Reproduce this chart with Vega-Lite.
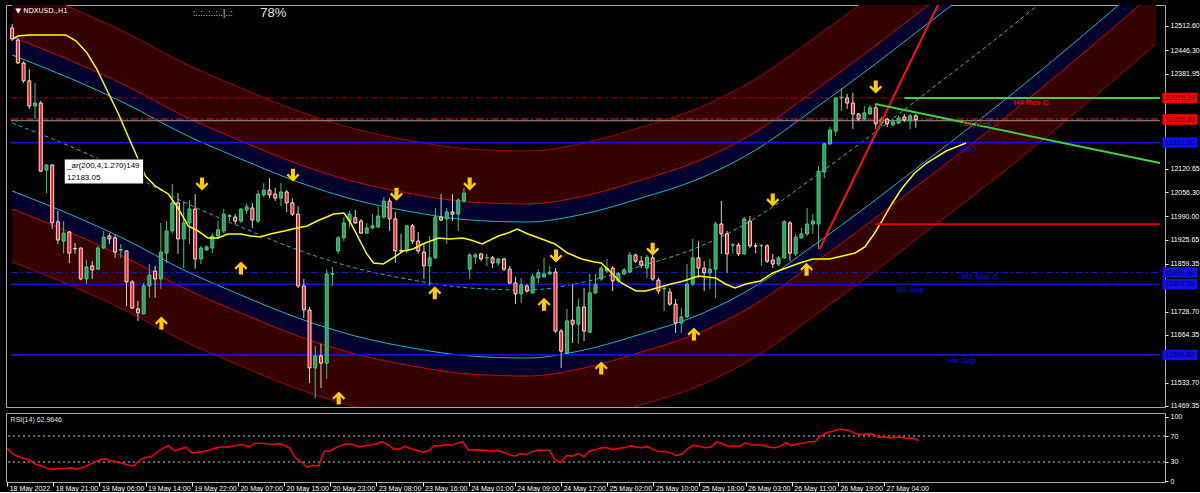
{
"$schema":"https://vega.github.io/schema/vega-lite/v6.json",
"background":"#000000",
"padding":{"left":3,"top":4,"right":0,"bottom":0},
"spacing":2,
"config":{"view":{"stroke":"#A8A8A8","strokeWidth":1},"axis":{"labelColor":"#FFFFFF","labelFont":"Liberation Sans","labelFontSize":7,"tickColor":"#FFFFFF","domain":false,"grid":false,"title":null,"labelOverlap":false}},
"datasets":{
"candles":[
{"i":0,"o":12507,"h":12518,"l":12471,"c":12477},{"i":1,"o":12474,"h":12480,"l":12408,"c":12411},{"i":2,"o":12411,"h":12416,"l":12356,"c":12362},{"i":3,"o":12362,"h":12394,"l":12285,"c":12293},{"i":4,"o":12293,"h":12356,"l":12257,"c":12301},{"i":5,"o":12301,"h":12307,"l":12112,"c":12114},{"i":6,"o":12117,"h":12134,"l":12054,"c":12131},{"i":7,"o":12131,"h":12133,"l":11955,"c":11972},{"i":8,"o":11975,"h":12005,"l":11914,"c":11925},{"i":9,"o":11922,"h":11977,"l":11889,"c":11944},
{"i":10,"o":11947,"h":11950,"l":11862,"c":11889},{"i":11,"o":11902,"h":11917,"l":11887,"c":11901},{"i":12,"o":11903,"h":11904,"l":11815,"c":11818},{"i":13,"o":11818,"h":11870,"l":11804,"c":11851},{"i":14,"o":11854,"h":11867,"l":11818,"c":11843},{"i":15,"o":11845,"h":11909,"l":11843,"c":11903},{"i":16,"o":11903,"h":11950,"l":11900,"c":11933},{"i":17,"o":11936,"h":11944,"l":11914,"c":11928},{"i":18,"o":11931,"h":11939,"l":11876,"c":11892},{"i":19,"o":11897,"h":11914,"l":11876,"c":11899},
{"i":20,"o":11895,"h":11896,"l":11744,"c":11810},{"i":21,"o":11810,"h":11815,"l":11736,"c":11738},{"i":22,"o":11736,"h":11758,"l":11703,"c":11725},{"i":23,"o":11722,"h":11807,"l":11722,"c":11799},{"i":24,"o":11799,"h":11859,"l":11766,"c":11829},{"i":25,"o":11840,"h":11854,"l":11766,"c":11818},{"i":26,"o":11818,"h":11972,"l":11791,"c":11892},{"i":27,"o":11889,"h":11977,"l":11862,"c":11950},{"i":28,"o":11950,"h":12079,"l":11942,"c":12027},{"i":29,"o":12027,"h":12054,"l":11887,"c":11928},
{"i":30,"o":11928,"h":12032,"l":11848,"c":11972},{"i":31,"o":11972,"h":12035,"l":11914,"c":12010},{"i":32,"o":12010,"h":12051,"l":11846,"c":11873},{"i":33,"o":11873,"h":11909,"l":11859,"c":11903},{"i":34,"o":11898,"h":11911,"l":11895,"c":11906},{"i":35,"o":11903,"h":11944,"l":11889,"c":11936},{"i":36,"o":11936,"h":11977,"l":11928,"c":11953},{"i":37,"o":11950,"h":12010,"l":11944,"c":11996},{"i":38,"o":11990,"h":11996,"l":11977,"c":11992},{"i":39,"o":11988,"h":11996,"l":11969,"c":11977},
{"i":40,"o":11977,"h":12013,"l":11972,"c":12010},{"i":41,"o":12007,"h":12024,"l":11996,"c":12016},{"i":42,"o":12013,"h":12027,"l":11958,"c":11980},{"i":43,"o":11977,"h":12062,"l":11972,"c":12051},{"i":44,"o":12049,"h":12081,"l":12043,"c":12062},{"i":45,"o":12062,"h":12095,"l":12040,"c":12049},{"i":46,"o":12051,"h":12068,"l":12032,"c":12040},{"i":47,"o":12040,"h":12081,"l":12018,"c":12057},{"i":48,"o":12057,"h":12062,"l":12002,"c":12027},{"i":49,"o":12027,"h":12040,"l":11991,"c":11996},
{"i":50,"o":11996,"h":12018,"l":11793,"c":11799},{"i":51,"o":11799,"h":11818,"l":11711,"c":11733},{"i":52,"o":11733,"h":11741,"l":11532,"c":11574},{"i":53,"o":11574,"h":11634,"l":11491,"c":11607},{"i":54,"o":11607,"h":11640,"l":11519,"c":11587},{"i":55,"o":11587,"h":11845,"l":11544,"c":11832},{"i":56,"o":11831,"h":11851,"l":11799,"c":11833},{"i":57,"o":11895,"h":11936,"l":11887,"c":11931},{"i":58,"o":11931,"h":11988,"l":11922,"c":11972},{"i":59,"o":11977,"h":12005,"l":11958,"c":11996},
{"i":60,"o":11986,"h":12007,"l":11969,"c":11972},{"i":61,"o":11977,"h":11983,"l":11942,"c":11944},{"i":62,"o":11944,"h":11972,"l":11942,"c":11958},{"i":63,"o":11958,"h":11996,"l":11955,"c":11964},{"i":64,"o":11961,"h":12016,"l":11958,"c":11991},{"i":65,"o":11988,"h":12043,"l":11983,"c":12032},{"i":66,"o":12032,"h":12040,"l":11950,"c":11983},{"i":67,"o":11983,"h":12002,"l":11862,"c":11895},{"i":68,"o":11896,"h":11942,"l":11889,"c":11895},{"i":69,"o":11895,"h":11966,"l":11889,"c":11964},
{"i":70,"o":11964,"h":11969,"l":11914,"c":11922},{"i":71,"o":11922,"h":11947,"l":11887,"c":11895},{"i":72,"o":11892,"h":11914,"l":11818,"c":11854},{"i":73,"o":11854,"h":11936,"l":11799,"c":11876},{"i":74,"o":11876,"h":12013,"l":11873,"c":11988},{"i":75,"o":11988,"h":12051,"l":11977,"c":11980},{"i":76,"o":11983,"h":12013,"l":11914,"c":12002},{"i":77,"o":12002,"h":12051,"l":11977,"c":11996},{"i":78,"o":11996,"h":12040,"l":11950,"c":12035},{"i":79,"o":12032,"h":12068,"l":12027,"c":12054},
{"i":80,"o":11845,"h":11889,"l":11818,"c":11884},{"i":81,"o":11878,"h":11889,"l":11859,"c":11884},{"i":82,"o":11887,"h":11889,"l":11867,"c":11873},{"i":83,"o":11876,"h":11887,"l":11854,"c":11877},{"i":84,"o":11876,"h":11881,"l":11848,"c":11862},{"i":85,"o":11862,"h":11876,"l":11854,"c":11873},{"i":86,"o":11873,"h":11876,"l":11840,"c":11845},{"i":87,"o":11845,"h":11854,"l":11804,"c":11807},{"i":88,"o":11807,"h":11824,"l":11749,"c":11777},{"i":89,"o":11777,"h":11821,"l":11752,"c":11802},
{"i":90,"o":11799,"h":11804,"l":11780,"c":11785},{"i":91,"o":11780,"h":11832,"l":11777,"c":11824},{"i":92,"o":11821,"h":11845,"l":11807,"c":11835},{"i":93,"o":11824,"h":11876,"l":11821,"c":11832},{"i":94,"o":11832,"h":11854,"l":11829,"c":11837},{"i":95,"o":11837,"h":11848,"l":11670,"c":11675},{"i":96,"o":11675,"h":11681,"l":11574,"c":11620},{"i":97,"o":11615,"h":11736,"l":11612,"c":11703},{"i":98,"o":11705,"h":11804,"l":11642,"c":11694},{"i":99,"o":11694,"h":11765,"l":11640,"c":11741},
{"i":100,"o":11741,"h":11793,"l":11648,"c":11675},{"i":101,"o":11672,"h":11832,"l":11670,"c":11780},{"i":102,"o":11780,"h":11832,"l":11777,"c":11802},{"i":103,"o":11818,"h":11854,"l":11813,"c":11848},{"i":104,"o":11840,"h":11873,"l":11835,"c":11848},{"i":105,"o":11848,"h":11854,"l":11785,"c":11813},{"i":106,"o":11813,"h":11837,"l":11807,"c":11832},{"i":107,"o":11832,"h":11848,"l":11829,"c":11843},{"i":108,"o":11837,"h":11892,"l":11835,"c":11884},{"i":109,"o":11884,"h":11887,"l":11862,"c":11867},
{"i":110,"o":11867,"h":11881,"l":11848,"c":11856},{"i":111,"o":11848,"h":11884,"l":11821,"c":11878},{"i":112,"o":11876,"h":11889,"l":11813,"c":11818},{"i":113,"o":11815,"h":11821,"l":11777,"c":11785},{"i":114,"o":11791,"h":11799,"l":11730,"c":11792},{"i":115,"o":11782,"h":11793,"l":11744,"c":11749},{"i":116,"o":11749,"h":11763,"l":11670,"c":11697},{"i":117,"o":11697,"h":11738,"l":11670,"c":11714},{"i":118,"o":11714,"h":11859,"l":11711,"c":11804},{"i":119,"o":11804,"h":11928,"l":11799,"c":11876},
{"i":120,"o":11876,"h":11922,"l":11821,"c":11848},{"i":121,"o":11848,"h":11867,"l":11785,"c":11835},{"i":122,"o":11835,"h":11873,"l":11791,"c":11845},{"i":123,"o":11845,"h":11975,"l":11766,"c":11969},{"i":124,"o":11969,"h":12032,"l":11887,"c":11942},{"i":125,"o":11942,"h":11950,"l":11835,"c":11887},{"i":126,"o":11911,"h":11917,"l":11887,"c":11912},{"i":127,"o":11911,"h":11917,"l":11881,"c":11887},{"i":128,"o":11887,"h":11988,"l":11884,"c":11983},{"i":129,"o":11977,"h":11991,"l":11903,"c":11909},
{"i":130,"o":11909,"h":11917,"l":11889,"c":11908},{"i":131,"o":11909,"h":11914,"l":11854,"c":11910},{"i":132,"o":11909,"h":11914,"l":11862,"c":11867},{"i":133,"o":11870,"h":11887,"l":11848,"c":11859},{"i":134,"o":11859,"h":11881,"l":11854,"c":11876},{"i":135,"o":11876,"h":11980,"l":11873,"c":11975},{"i":136,"o":11972,"h":11977,"l":11867,"c":11889},{"i":137,"o":11887,"h":11942,"l":11881,"c":11933},{"i":138,"o":11931,"h":11958,"l":11928,"c":11942},{"i":139,"o":11942,"h":12013,"l":11936,"c":11969},
{"i":140,"o":11969,"h":11996,"l":11942,"c":11977},{"i":141,"o":11969,"h":12128,"l":11900,"c":12114},{"i":142,"o":12112,"h":12191,"l":12095,"c":12189},{"i":143,"o":12189,"h":12235,"l":12186,"c":12227},{"i":144,"o":12224,"h":12315,"l":12211,"c":12315},{"i":145,"o":12315,"h":12342,"l":12279,"c":12317},{"i":146,"o":12315,"h":12326,"l":12285,"c":12301},{"i":147,"o":12301,"h":12329,"l":12230,"c":12271},{"i":148,"o":12271,"h":12274,"l":12252,"c":12257},{"i":149,"o":12257,"h":12293,"l":12252,"c":12274},
{"i":150,"o":12271,"h":12296,"l":12268,"c":12288},{"i":151,"o":12288,"h":12298,"l":12230,"c":12244},{"i":152,"o":12246,"h":12263,"l":12238,"c":12257},{"i":153,"o":12257,"h":12260,"l":12235,"c":12244},{"i":154,"o":12241,"h":12257,"l":12238,"c":12249},{"i":155,"o":12246,"h":12266,"l":12244,"c":12260},{"i":156,"o":12263,"h":12271,"l":12249,"c":12255},{"i":157,"o":12252,"h":12271,"l":12230,"c":12266},{"i":158,"o":12266,"h":12271,"l":12233,"c":12255.6}
],
"chan":[
{"i":0,"mid":12246.3,"uc":12433.0,"lc":12059.6,"ui":12482.4,"li":12010.2,"uo":12627.9,"lo":11864.7},
{"i":10,"mid":12183.1,"uc":12369.8,"lc":11996.4,"ui":12419.2,"li":11947.0,"uo":12564.7,"lo":11801.5},
{"i":20,"mid":12111.7,"uc":12298.4,"lc":11925.0,"ui":12347.8,"li":11875.6,"uo":12493.3,"lo":11730.1},
{"i":30,"mid":12029.4,"uc":12216.1,"lc":11842.7,"ui":12265.5,"li":11793.3,"uo":12411.0,"lo":11647.8},
{"i":40,"mid":11960.7,"uc":12147.4,"lc":11774.0,"ui":12196.8,"li":11724.6,"uo":12342.3,"lo":11579.1},
{"i":50,"mid":11897.6,"uc":12084.3,"lc":11710.9,"ui":12133.7,"li":11661.5,"uo":12279.2,"lo":11516.0},
{"i":60,"mid":11848.2,"uc":12034.9,"lc":11661.5,"ui":12084.3,"li":11612.1,"uo":12229.8,"lo":11466.6},
{"i":70,"mid":11815.2,"uc":12001.9,"lc":11628.5,"ui":12051.3,"li":11579.1,"uo":12196.8,"lo":11433.6},
{"i":80,"mid":11793.3,"uc":11980.0,"lc":11606.6,"ui":12029.4,"li":11557.2,"uo":12174.9,"lo":11411.7},
{"i":90,"mid":11787.8,"uc":11974.5,"lc":11601.1,"ui":12023.9,"li":11551.7,"uo":12169.4,"lo":11406.2},
{"i":100,"mid":11809.8,"uc":11996.5,"lc":11623.1,"ui":12045.9,"li":11573.7,"uo":12191.4,"lo":11428.2},
{"i":110,"mid":11853.7,"uc":12040.4,"lc":11667.0,"ui":12089.8,"li":11617.6,"uo":12235.3,"lo":11472.1},
{"i":120,"mid":11905.8,"uc":12092.5,"lc":11719.1,"ui":12141.9,"li":11669.7,"uo":12287.4,"lo":11524.2},
{"i":130,"mid":11985.5,"uc":12172.2,"lc":11798.8,"ui":12221.6,"li":11749.4,"uo":12367.1,"lo":11603.9},
{"i":140,"mid":12095.3,"uc":12282.0,"lc":11908.6,"ui":12331.4,"li":11859.2,"uo":12476.9,"lo":11713.7},
{"i":150,"mid":12210.6,"uc":12397.3,"lc":12023.9,"ui":12446.7,"li":11974.5,"uo":12592.2,"lo":11829.0},
{"i":160,"mid":12331.4,"uc":12518.1,"lc":12144.7,"ui":12567.5,"li":12095.3,"uo":12713.0,"lo":11949.8},
{"i":170,"mid":12452.2,"uc":12638.9,"lc":12265.5,"ui":12688.3,"li":12216.1,"uo":12833.8,"lo":12070.6},
{"i":180,"mid":12578.5,"uc":12765.2,"lc":12391.8,"ui":12814.6,"li":12342.4,"uo":12960.1,"lo":12196.9},
{"i":190,"mid":12710.2,"uc":12896.9,"lc":12523.5,"ui":12946.3,"li":12474.1,"uo":13091.8,"lo":12328.6},
{"i":200,"mid":12844.8,"uc":13031.5,"lc":12658.1,"ui":13080.9,"li":12608.7,"uo":13226.4,"lo":12463.2}
],
"ma":[
{"i":0.1,"p":12476.9},{"i":1.0,"p":12485.1},{"i":3.0,"p":12487.9},{"i":9.4,"p":12487.9},{"i":11.2,"p":12471.4},{"i":13.1,"p":12438.4},{"i":14.8,"p":12394.5},{"i":16.9,"p":12325.9},{"i":18.6,"p":12271.0},{"i":20.4,"p":12205.1},{"i":21.8,"p":12155.7},{"i":23.3,"p":12100.8},{"i":25.0,"p":12073.3},{"i":27.3,"p":12051.4},{"i":29.0,"p":12012.9},{"i":30.8,"p":11963.5},{"i":32.5,"p":11949.8},{"i":34.2,"p":11930.6},{"i":36.0,"p":11930.6},{"i":37.7,"p":11941.6},{"i":40.0,"p":11941.6},{"i":41.7,"p":11936.1},{"i":43.4,"p":11933.3},{"i":45.1,"p":11941.6},{"i":47.6,"p":11949.8},{"i":49.8,"p":11958.1},{"i":51.6,"p":11963.5},{"i":53.3,"p":11977.3},{"i":55.0,"p":11988.2},{"i":56.2,"p":11996.5},{"i":58.0,"p":11999.2},{"i":59.0,"p":11977.3},{"i":60.2,"p":11941.6},{"i":62.0,"p":11886.7},{"i":63.2,"p":11861.9},{"i":64.9,"p":11859.2},{"i":66.6,"p":11875.7},{"i":68.4,"p":11894.9},{"i":70.1,"p":11900.4},{"i":71.8,"p":11914.1},{"i":73.6,"p":11925.1},{"i":74.6,"p":11930.6},{"i":76.4,"p":11927.8},{"i":78.8,"p":11930.6},{"i":80.2,"p":11925.1},{"i":82.2,"p":11914.1},{"i":85.0,"p":11936.1},{"i":86.7,"p":11944.3},{"i":88.3,"p":11955.3},{"i":90.2,"p":11941.6},{"i":92.6,"p":11927.8},{"i":94.9,"p":11914.1},{"i":97.1,"p":11889.4},{"i":99.6,"p":11872.9},{"i":101.8,"p":11864.7},{"i":103.0,"p":11861.9},{"i":104.8,"p":11834.5},{"i":106.5,"p":11807.0},{"i":109.1,"p":11785.0},{"i":110.8,"p":11785.0},{"i":112.7,"p":11793.3},{"i":115.2,"p":11804.3},{"i":117.4,"p":11812.5},{"i":120.0,"p":11826.2},{"i":123.0,"p":11820.8},{"i":124.7,"p":11804.3},{"i":126.4,"p":11793.3},{"i":128.3,"p":11804.3},{"i":130.8,"p":11812.5},{"i":133.0,"p":11834.5},{"i":135.3,"p":11848.2},{"i":137.7,"p":11861.9},{"i":140.0,"p":11872.9},{"i":142.9,"p":11872.9},{"i":145.2,"p":11881.2},{"i":147.4,"p":11889.4},{"i":149.1,"p":11905.9},{"i":150.7,"p":11941.6},{"i":152.1,"p":11977.3},{"i":153.8,"p":12023.9},{"i":155.5,"p":12065.1},{"i":157.8,"p":12109.0},{"i":159.9,"p":12136.4},{"i":163.3,"p":12169.4},{"i":166.8,"p":12191.4}
],
"rsi":[
{"i":0,"r":51.5},{"i":1,"r":42},{"i":2,"r":38},{"i":3,"r":35},{"i":4,"r":33},{"i":5,"r":26},{"i":6,"r":24},{"i":7,"r":20},{"i":8,"r":19},{"i":9,"r":19.5},{"i":10,"r":20},{"i":11,"r":21},{"i":12,"r":19},{"i":13,"r":21},{"i":14,"r":25},{"i":15,"r":29},{"i":16,"r":33},{"i":17,"r":35},{"i":18,"r":32},{"i":19,"r":30},{"i":20,"r":28},{"i":21,"r":25},{"i":22,"r":24},{"i":23,"r":33},{"i":24,"r":37},{"i":25,"r":38},{"i":26,"r":45},{"i":27,"r":51},{"i":28,"r":55},{"i":29,"r":47},{"i":30,"r":50},{"i":31,"r":53},{"i":32,"r":44},{"i":33,"r":45},{"i":34,"r":46},{"i":35,"r":48},{"i":36,"r":51},{"i":37,"r":53},{"i":38,"r":53},{"i":39,"r":54},{"i":40,"r":56},{"i":41,"r":56},{"i":42,"r":53},{"i":43,"r":59},{"i":44,"r":59},{"i":45,"r":58},{"i":46,"r":57},{"i":47,"r":58},{"i":48,"r":56},{"i":49,"r":51},{"i":50,"r":36},{"i":51,"r":30},{"i":52,"r":22},{"i":53,"r":25},{"i":54,"r":24},{"i":55,"r":47},{"i":56,"r":47},{"i":57,"r":52},{"i":58,"r":56},{"i":59,"r":58},{"i":60,"r":57},{"i":61,"r":53},{"i":62,"r":55},{"i":63,"r":56},{"i":64,"r":58},{"i":65,"r":61},{"i":66,"r":57},{"i":67,"r":50},{"i":68,"r":50},{"i":69,"r":54},{"i":70,"r":50},{"i":71,"r":48},{"i":72,"r":45},{"i":73,"r":47},{"i":74,"r":55},{"i":75,"r":55},{"i":76,"r":57},{"i":77,"r":56},{"i":78,"r":59},{"i":79,"r":61},{"i":80,"r":48},{"i":81,"r":49},{"i":82,"r":48},{"i":83,"r":48},{"i":84,"r":47},{"i":85,"r":48},{"i":86,"r":45},{"i":87,"r":42},{"i":88,"r":39},{"i":89,"r":43},{"i":90,"r":41},{"i":91,"r":46},{"i":92,"r":48},{"i":93,"r":48},{"i":94,"r":48},{"i":95,"r":33},{"i":96,"r":29},{"i":97,"r":40},{"i":98,"r":39},{"i":99,"r":43},{"i":100,"r":38},{"i":101,"r":47},{"i":102,"r":49},{"i":103,"r":52},{"i":104,"r":52},{"i":105,"r":49},{"i":106,"r":51},{"i":107,"r":52},{"i":108,"r":55},{"i":109,"r":53},{"i":110,"r":52},{"i":111,"r":54},{"i":112,"r":49},{"i":113,"r":46},{"i":114,"r":46},{"i":115,"r":44},{"i":116,"r":40},{"i":117,"r":42},{"i":118,"r":51},{"i":119,"r":56},{"i":120,"r":54},{"i":121,"r":52},{"i":122,"r":53},{"i":123,"r":61},{"i":124,"r":58},{"i":125,"r":54},{"i":126,"r":55},{"i":127,"r":54},{"i":128,"r":60},{"i":129,"r":56},{"i":130,"r":56},{"i":131,"r":56},{"i":132,"r":53},{"i":133,"r":52},{"i":134,"r":54},{"i":135,"r":60},{"i":136,"r":55},{"i":137,"r":58},{"i":138,"r":59},{"i":139,"r":61},{"i":140,"r":61},{"i":141,"r":70},{"i":142,"r":75},{"i":143,"r":77},{"i":144,"r":80},{"i":145,"r":80},{"i":146,"r":78},{"i":147,"r":74},{"i":148,"r":72},{"i":149,"r":73},{"i":150,"r":73},{"i":151,"r":68},{"i":152,"r":69},{"i":153,"r":67},{"i":154,"r":68},{"i":155,"r":68},{"i":156,"r":66},{"i":157,"r":67},{"i":158,"r":62.96}
]
},
"vconcat":[
{
"width":1159,"height":402,
"layer":[
{"data":{"name":"chan"},"mark":{"type":"area","interpolate":"monotone","clip":true,"color":"#340000"},"encoding":{"x":{"field":"i","type":"quantitative","scale":{"domain":[-0.2,200.7],"nice":false,"zero":false},"axis":null},"y":{"field":"uo","type":"quantitative","scale":{"domain":[11466.6,12570.2],"nice":false,"zero":false},"axis":{"orient":"right","values":[12512.6,12446.3,12381.95,12120.65,12056.3,11990.0,11925.65,11859.35,11728.7,11664.35,11533.7,11469.35],"tickCount":100,"format":".2f","tickSize":3,"labelPadding":2,"title":null,"labelBaseline":"middle","labelOverlap":false}},"y2":{"field":"ui"}}},
{"data":{"name":"chan"},"mark":{"type":"area","interpolate":"monotone","clip":true,"color":"#00002C"},"encoding":{"x":{"field":"i","type":"quantitative","scale":{"domain":[-0.2,200.7],"nice":false,"zero":false}},"y":{"field":"ui","type":"quantitative","scale":{"domain":[11466.6,12570.2],"nice":false,"zero":false}},"y2":{"field":"uc"}}},
{"data":{"name":"chan"},"mark":{"type":"area","interpolate":"monotone","clip":true,"color":"#00002C"},"encoding":{"x":{"field":"i","type":"quantitative","scale":{"domain":[-0.2,200.7],"nice":false,"zero":false}},"y":{"field":"lc","type":"quantitative","scale":{"domain":[11466.6,12570.2],"nice":false,"zero":false}},"y2":{"field":"li"}}},
{"data":{"name":"chan"},"mark":{"type":"area","interpolate":"monotone","clip":true,"color":"#340000"},"encoding":{"x":{"field":"i","type":"quantitative","scale":{"domain":[-0.2,200.7],"nice":false,"zero":false}},"y":{"field":"li","type":"quantitative","scale":{"domain":[11466.6,12570.2],"nice":false,"zero":false}},"y2":{"field":"lo"}}},
{"data":{"name":"chan"},"transform":[{"fold":["uo","lo"],"as":["k","v"]}],"mark":{"type":"line","interpolate":"monotone","clip":true,"color":"#A00000","strokeWidth":1},"encoding":{"x":{"field":"i","type":"quantitative","scale":{"domain":[-0.2,200.7],"nice":false,"zero":false}},"y":{"field":"v","type":"quantitative","scale":{"domain":[11466.6,12570.2],"nice":false,"zero":false}},"detail":{"field":"k"}}},
{"data":{"name":"chan"},"transform":[{"fold":["ui","li"],"as":["k","v"]}],"mark":{"type":"line","interpolate":"monotone","clip":true,"color":"#D00000","strokeWidth":1},"encoding":{"x":{"field":"i","type":"quantitative","scale":{"domain":[-0.2,200.7],"nice":false,"zero":false}},"y":{"field":"v","type":"quantitative","scale":{"domain":[11466.6,12570.2],"nice":false,"zero":false}},"detail":{"field":"k"}}},
{"data":{"name":"chan"},"transform":[{"fold":["uc","lc"],"as":["k","v"]}],"mark":{"type":"line","interpolate":"monotone","clip":true,"color":"#20B4C8","strokeWidth":1},"encoding":{"x":{"field":"i","type":"quantitative","scale":{"domain":[-0.2,200.7],"nice":false,"zero":false}},"y":{"field":"v","type":"quantitative","scale":{"domain":[11466.6,12570.2],"nice":false,"zero":false}},"detail":{"field":"k"}}},
{"data":{"name":"chan"},"mark":{"type":"line","interpolate":"monotone","clip":true,"color":"#20B4C8","strokeWidth":1,"strokeDash":[4,3]},"encoding":{"x":{"field":"i","type":"quantitative","scale":{"domain":[-0.2,200.7],"nice":false,"zero":false}},"y":{"field":"mid","type":"quantitative","scale":{"domain":[11466.6,12570.2],"nice":false,"zero":false}}}},
{"data":{"values":[{"p":12315.1}]},"mark":{"type":"rule","color":"#A00000","strokeWidth":1,"strokeDash":[7,3,2,3]},"encoding":{"x":{"datum":-0.2,"type":"quantitative","scale":{"domain":[-0.2,200.7],"nice":false,"zero":false}},"x2":{"datum":200.7},"y":{"field":"p","type":"quantitative","scale":{"domain":[11466.6,12570.2],"nice":false,"zero":false}}}},
{"data":{"values":[{"p":12257.5}]},"mark":{"type":"rule","color":"#A00000","strokeWidth":2,"strokeDash":[7,3,2,3]},"encoding":{"x":{"datum":-0.2,"type":"quantitative","scale":{"domain":[-0.2,200.7],"nice":false,"zero":false}},"x2":{"datum":200.7},"y":{"field":"p","type":"quantitative","scale":{"domain":[11466.6,12570.2],"nice":false,"zero":false}}}},
{"data":{"values":[{"p":12252.5}]},"mark":{"type":"rule","color":"#9A9A9A","strokeWidth":1},"encoding":{"x":{"datum":-0.2,"type":"quantitative","scale":{"domain":[-0.2,200.7],"nice":false,"zero":false}},"x2":{"datum":200.7},"y":{"field":"p","type":"quantitative","scale":{"domain":[11466.6,12570.2],"nice":false,"zero":false}}}},
{"data":{"values":[{"p":11835.6}]},"mark":{"type":"rule","color":"#1515D0","strokeWidth":1,"strokeDash":[7,3,2,3]},"encoding":{"x":{"datum":-0.2,"type":"quantitative","scale":{"domain":[-0.2,200.7],"nice":false,"zero":false}},"x2":{"datum":200.7},"y":{"field":"p","type":"quantitative","scale":{"domain":[11466.6,12570.2],"nice":false,"zero":false}}}},
{"data":{"values":[{"p":12192.5},{"p":11803.5},{"p":11609.6}]},"mark":{"type":"rule","color":"#1515D0","strokeWidth":1.6},"encoding":{"x":{"datum":-0.2,"type":"quantitative","scale":{"domain":[-0.2,200.7],"nice":false,"zero":false}},"x2":{"datum":200.7},"y":{"field":"p","type":"quantitative","scale":{"domain":[11466.6,12570.2],"nice":false,"zero":false}}}},
{"data":{"name":"candles"},"transform":[{"filter":"datum.c >= datum.o"}],"mark":{"type":"rule","color":"#3CC878","strokeWidth":1},"encoding":{"x":{"field":"i","type":"quantitative","scale":{"domain":[-0.2,200.7],"nice":false,"zero":false}},"y":{"field":"l","type":"quantitative","scale":{"domain":[11466.6,12570.2],"nice":false,"zero":false}},"y2":{"field":"h"}}},
{"data":{"name":"candles"},"transform":[{"filter":"datum.c < datum.o"}],"mark":{"type":"rule","color":"#D0D0D0","strokeWidth":1},"encoding":{"x":{"field":"i","type":"quantitative","scale":{"domain":[-0.2,200.7],"nice":false,"zero":false}},"y":{"field":"l","type":"quantitative","scale":{"domain":[11466.6,12570.2],"nice":false,"zero":false}},"y2":{"field":"h"}}},
{"data":{"name":"candles"},"transform":[{"filter":"datum.c >= datum.o"}],"mark":{"type":"bar","size":3,"fill":"#2E9E60","stroke":"#46D080","strokeWidth":1},"encoding":{"x":{"field":"i","type":"quantitative","scale":{"domain":[-0.2,200.7],"nice":false,"zero":false}},"y":{"field":"o","type":"quantitative","scale":{"domain":[11466.6,12570.2],"nice":false,"zero":false}},"y2":{"field":"c"}}},
{"data":{"name":"candles"},"transform":[{"filter":"datum.c < datum.o"}],"mark":{"type":"bar","size":3,"fill":"#FF1A1A","stroke":"#E8E8E8","strokeWidth":1},"encoding":{"x":{"field":"i","type":"quantitative","scale":{"domain":[-0.2,200.7],"nice":false,"zero":false}},"y":{"field":"o","type":"quantitative","scale":{"domain":[11466.6,12570.2],"nice":false,"zero":false}},"y2":{"field":"c"}}},
{"data":{"name":"ma"},"mark":{"type":"line","color":"#FFFF00","strokeWidth":1.5,"clip":true},"encoding":{"x":{"field":"i","type":"quantitative","scale":{"domain":[-0.2,200.7],"nice":false,"zero":false}},"y":{"field":"p","type":"quantitative","scale":{"domain":[11466.6,12570.2],"nice":false,"zero":false}}}},
{"data":{"values":[{"i":141.2,"p":11900.4},{"i":162.0,"p":12574}]},"mark":{"type":"line","color":"#FF1010","strokeWidth":2,"clip":true},"encoding":{"x":{"field":"i","type":"quantitative","scale":{"domain":[-0.2,200.7],"nice":false,"zero":false}},"y":{"field":"p","type":"quantitative","scale":{"domain":[11466.6,12570.2],"nice":false,"zero":false}}}},
{"data":{"values":[{"i":150.9,"p":12298.4},{"i":200.7,"p":12136.4}]},"mark":{"type":"line","color":"#40D040","strokeWidth":2,"clip":true},"encoding":{"x":{"field":"i","type":"quantitative","scale":{"domain":[-0.2,200.7],"nice":false,"zero":false}},"y":{"field":"p","type":"quantitative","scale":{"domain":[11466.6,12570.2],"nice":false,"zero":false}}}},
{"data":{"values":[{"i":156.0,"i2":200.7,"p":12315.1}]},"mark":{"type":"rule","color":"#40D040","strokeWidth":2},"encoding":{"x":{"field":"i","type":"quantitative","scale":{"domain":[-0.2,200.7],"nice":false,"zero":false}},"x2":{"field":"i2"},"y":{"field":"p","type":"quantitative","scale":{"domain":[11466.6,12570.2],"nice":false,"zero":false}}}},
{"data":{"values":[{"i":151.0,"i2":200.7,"p":11968}]},"mark":{"type":"rule","color":"#E00000","strokeWidth":2},"encoding":{"x":{"field":"i","type":"quantitative","scale":{"domain":[-0.2,200.7],"nice":false,"zero":false}},"x2":{"field":"i2"},"y":{"field":"p","type":"quantitative","scale":{"domain":[11466.6,12570.2],"nice":false,"zero":false}}}},
{"data":{"values":[{"i":26.1,"p":11697},{"i":40.0,"p":11848},{"i":57.1,"p":11491},{"i":73.9,"p":11780},{"i":93.0,"p":11749},{"i":103.0,"p":11574},{"i":119.2,"p":11667},{"i":138.9,"p":11845}]},"mark":{"type":"point","filled":true,"opacity":1,"color":"#FFCC00","size":169,"shape":"M0,-1 L1,0 L0.75,0.25 L0.32,-0.2 L0.32,1 L-0.32,1 L-0.32,-0.2 L-0.75,0.25 L-1,0 Z"},"encoding":{"x":{"field":"i","type":"quantitative","scale":{"domain":[-0.2,200.7],"nice":false,"zero":false}},"y":{"field":"p","type":"quantitative","scale":{"domain":[11466.6,12570.2],"nice":false,"zero":false}}}},
{"data":{"values":[{"i":33.2,"p":12079},{"i":49.1,"p":12103},{"i":67.2,"p":12051},{"i":80.0,"p":12079},{"i":95.1,"p":11881},{"i":112.0,"p":11900},{"i":133.0,"p":12035},{"i":151.0,"p":12345}]},"mark":{"type":"point","filled":true,"opacity":1,"color":"#FFCC00","size":169,"shape":"M0,1 L1,0 L0.75,-0.25 L0.32,0.2 L0.32,-1 L-0.32,-1 L-0.32,0.2 L-0.75,-0.25 L-1,0 Z"},"encoding":{"x":{"field":"i","type":"quantitative","scale":{"domain":[-0.2,200.7],"nice":false,"zero":false}},"y":{"field":"p","type":"quantitative","scale":{"domain":[11466.6,12570.2],"nice":false,"zero":false}}}},
{"data":{"values":[{"i":175.1,"p":12301,"t":"H4 Res C"}]},"mark":{"type":"text","align":"left","baseline":"middle","color":"#E00000","font":"Liberation Sans","fontSize":8,"fontWeight":"bold"},"encoding":{"text":{"field":"t"},"x":{"field":"i","type":"quantitative","scale":{"domain":[-0.2,200.7],"nice":false,"zero":false}},"y":{"field":"p","type":"quantitative","scale":{"domain":[11466.6,12570.2],"nice":false,"zero":false}}}},
{"data":{"values":[{"i":166.3,"p":12243.5,"t":"D1 Res C"}]},"mark":{"type":"text","align":"left","baseline":"middle","color":"#B00000","font":"Liberation Sans","fontSize":8,"fontWeight":"bold"},"encoding":{"text":{"field":"t"},"x":{"field":"i","type":"quantitative","scale":{"domain":[-0.2,200.7],"nice":false,"zero":false}},"y":{"field":"p","type":"quantitative","scale":{"domain":[11466.6,12570.2],"nice":false,"zero":false}}}},
{"data":{"values":[{"i":165.9,"p":12174.9,"t":"Sup"},{"i":165.9,"p":11823.5,"t":"W1 Sup C"},{"i":154.7,"p":11787.8,"t":"D1 Sup"},{"i":163.7,"p":11593,"t":"H4 Sup"}]},"mark":{"type":"text","align":"left","baseline":"middle","color":"#0000D8","font":"Liberation Sans","fontSize":8,"fontWeight":"bold"},"encoding":{"text":{"field":"t"},"x":{"field":"i","type":"quantitative","scale":{"domain":[-0.2,200.7],"nice":false,"zero":false}},"y":{"field":"p","type":"quantitative","scale":{"domain":[11466.6,12570.2],"nice":false,"zero":false}}}},
{"data":{"values":[{"i":9.1,"i2":23.0,"p":12147.4,"p2":12078.8}]},"mark":{"type":"rect","fill":"#FFFFFF","stroke":"#000000","strokeWidth":1},"encoding":{"x":{"field":"i","type":"quantitative","scale":{"domain":[-0.2,200.7],"nice":false,"zero":false}},"x2":{"field":"i2"},"y":{"field":"p","type":"quantitative","scale":{"domain":[11466.6,12570.2],"nice":false,"zero":false}},"y2":{"field":"p2"}}},
{"data":{"values":[{"i":9.6,"p":12129,"t":"_ar(200,4,1.270)149"},{"i":9.6,"p":12096,"t":"12183.05"}]},"mark":{"type":"text","align":"left","baseline":"middle","color":"#000000","font":"Liberation Sans","fontSize":8},"encoding":{"text":{"field":"t"},"x":{"field":"i","type":"quantitative","scale":{"domain":[-0.2,200.7],"nice":false,"zero":false}},"y":{"field":"p","type":"quantitative","scale":{"domain":[11466.6,12570.2],"nice":false,"zero":false}}}},
{"data":{"values":[{"i":0.6,"p":12554,"t":"▼ NDXUSD.,H1"}]},"mark":{"type":"text","align":"left","baseline":"middle","color":"#FFFFFF","font":"DejaVu Sans","fontSize":7},"encoding":{"text":{"field":"t"},"x":{"field":"i","type":"quantitative","scale":{"domain":[-0.2,200.7],"nice":false,"zero":false}},"y":{"field":"p","type":"quantitative","scale":{"domain":[11466.6,12570.2],"nice":false,"zero":false}}}},
{"data":{"values":[{"i":31.6,"p":12548,"t":":..:..:..:..|..:"}]},"mark":{"type":"text","align":"left","baseline":"middle","color":"#D8D8D8","font":"Liberation Sans","fontSize":9},"encoding":{"text":{"field":"t"},"x":{"field":"i","type":"quantitative","scale":{"domain":[-0.2,200.7],"nice":false,"zero":false}},"y":{"field":"p","type":"quantitative","scale":{"domain":[11466.6,12570.2],"nice":false,"zero":false}}}},
{"data":{"values":[{"i":43.4,"p":12548,"t":"78%"}]},"mark":{"type":"text","align":"left","baseline":"middle","color":"#E0E0E0","font":"Liberation Sans","fontSize":13},"encoding":{"text":{"field":"t"},"x":{"field":"i","type":"quantitative","scale":{"domain":[-0.2,200.7],"nice":false,"zero":false}},"y":{"field":"p","type":"quantitative","scale":{"domain":[11466.6,12570.2],"nice":false,"zero":false}}}},
{"data":{"values":[{"p":12315.1},{"p":12255.6}]},"mark":{"type":"point","filled":true,"opacity":1,"color":"#FF0000","size":1225,"shape":"M-1,-0.3 L1,-0.3 L1,0.3 L-1,0.3 Z"},"encoding":{"x":{"datum":204.2,"type":"quantitative","scale":{"domain":[-0.2,200.7],"nice":false,"zero":false}},"y":{"field":"p","type":"quantitative","scale":{"domain":[11466.6,12570.2],"nice":false,"zero":false}}}},
{"data":{"values":[{"p":12192.5},{"p":11835.6},{"p":11803.5},{"p":11609.6}]},"mark":{"type":"point","filled":true,"opacity":1,"color":"#1010F0","size":1225,"shape":"M-1,-0.3 L1,-0.3 L1,0.3 L-1,0.3 Z"},"encoding":{"x":{"datum":204.2,"type":"quantitative","scale":{"domain":[-0.2,200.7],"nice":false,"zero":false}},"y":{"field":"p","type":"quantitative","scale":{"domain":[11466.6,12570.2],"nice":false,"zero":false}}}},
{"data":{"values":[{"p":12315.1},{"p":12255.6}]},"mark":{"type":"text","align":"center","baseline":"middle","color":"#3A0000","font":"Liberation Sans","fontSize":7},"encoding":{"text":{"field":"p","format":".2f"},"x":{"datum":204.2,"type":"quantitative","scale":{"domain":[-0.2,200.7],"nice":false,"zero":false}},"y":{"field":"p","type":"quantitative","scale":{"domain":[11466.6,12570.2],"nice":false,"zero":false}}}},
{"data":{"values":[{"p":12192.5},{"p":11835.6},{"p":11803.5},{"p":11609.6}]},"mark":{"type":"text","align":"center","baseline":"middle","color":"#000060","font":"Liberation Sans","fontSize":7},"encoding":{"text":{"field":"p","format":".2f"},"x":{"datum":204.2,"type":"quantitative","scale":{"domain":[-0.2,200.7],"nice":false,"zero":false}},"y":{"field":"p","type":"quantitative","scale":{"domain":[11466.6,12570.2],"nice":false,"zero":false}}}}
]
},
{
"width":1159,"height":69,
"layer":[
{"data":{"values":[{"r":70},{"r":30}]},"mark":{"type":"rule","color":"#C8C8C8","strokeWidth":1,"strokeDash":[2,3]},"encoding":{"y":{"field":"r","type":"quantitative","scale":{"domain":[-0.8,105.4],"nice":false,"zero":false},"axis":{"orient":"right","values":[0,30,70,100],"tickCount":100,"tickSize":3,"labelPadding":2,"title":null,"labelBaseline":"middle","labelOverlap":false}}}},
{"data":{"name":"rsi"},"mark":{"type":"line","color":"#FF0000","strokeWidth":1.5},"encoding":{"x":{"field":"i","type":"quantitative","scale":{"domain":[-0.2,200.7],"nice":false,"zero":false},"axis":{"values":[0,8,16,24,32,40,48,56,64,72,80,88,96,104,112,120,128,136,144,152],"tickCount":100,"labelExpr":"['18 May 2022','18 May 21:00','19 May 06:00','19 May 14:00','19 May 22:00','20 May 07:00','20 May 15:00','20 May 23:00','23 May 08:00','23 May 16:00','24 May 01:00','24 May 09:00','24 May 17:00','25 May 02:00','25 May 10:00','25 May 18:00','26 May 03:00','26 May 11:00','26 May 19:00','27 May 04:00'][round(datum.value/8)]","labelAlign":"left","labelBaseline":"top","labelPadding":-2,"labelOffset":2,"tickSize":4,"labelFlush":false,"labelOverlap":false,"title":null}},"y":{"field":"r","type":"quantitative","scale":{"domain":[-0.8,105.4],"nice":false,"zero":false}}}},
{"data":{"values":[{"t":"RSI(14) 62.9646"}]},"mark":{"type":"text","align":"left","baseline":"middle","color":"#E0E0E0","font":"Liberation Sans","fontSize":7},"encoding":{"text":{"field":"t"},"x":{"datum":0.6,"type":"quantitative"},"y":{"datum":94.5,"type":"quantitative"}}}
]
}
]
}
